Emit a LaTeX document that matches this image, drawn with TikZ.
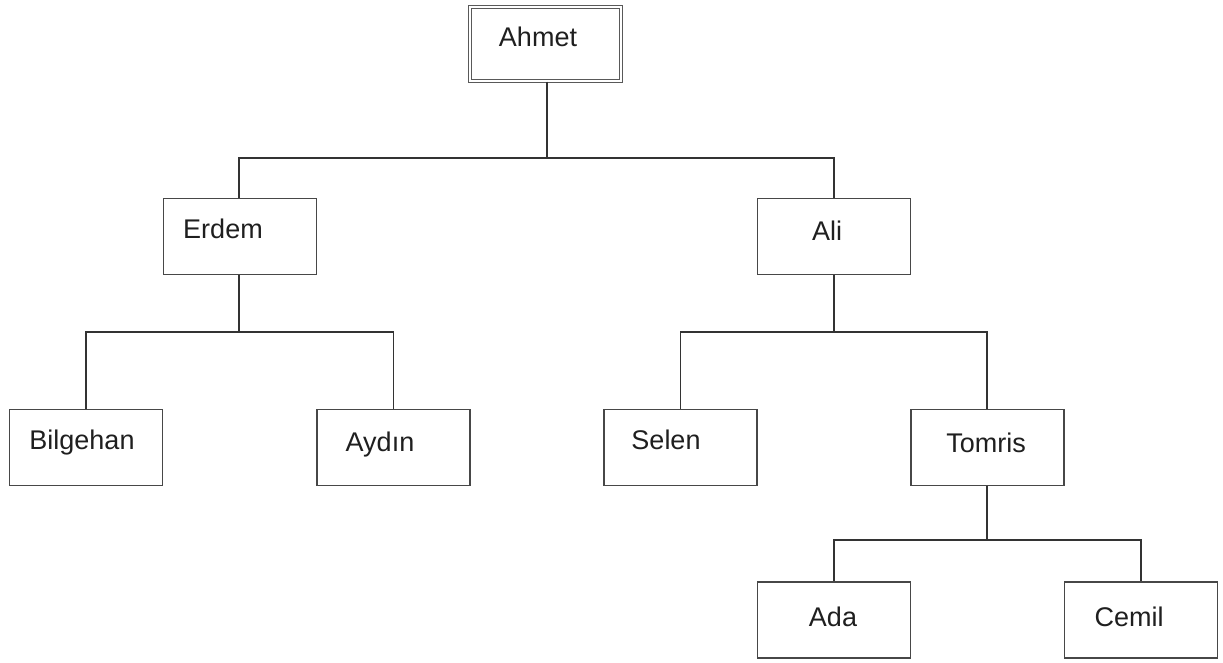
\documentclass[tikz,border=0pt]{standalone}
\usepackage{fontspec}
\setmainfont{Liberation Sans}
\begin{document}
\begin{tikzpicture}[x=1pt,y=-1pt,
  person/.style={draw=black!72, line width=1.7pt, minimum width=153pt, minimum height=76pt, inner sep=0pt},
  root/.style={draw=black!65, line width=1.4pt, double=white, double distance=1.6pt, minimum width=151pt, minimum height=74pt, inner sep=0pt},
  tag/.style={font=\fontsize{27}{30}\selectfont, text=black!88, inner sep=0pt},
  link/.style={draw=black!80, line width=1.6pt}]
\useasboundingbox[fill=white] (0,0) rectangle (1223,662);

\node[root]   (Ahmet)    at (545.5,44)  {};
\node[person] (Erdem)    at (240,236.5) {};
\node[person] (Ali)      at (834,236.5) {};
\node[person] (Bilgehan) at (86,447.5)  {};
\node[person] (Aydin)    at (393.5,447.5) {};
\node[person] (Selen)    at (680.5,447.5) {};
\node[person] (Tomris)   at (987.5,447.5) {};
\node[person] (Ada)      at (834,620)   {};
\node[person] (Cemil)    at (1141,620)  {};

\node[tag] (tAhmet)    at (538,37)   {Ahmet};
\node[tag] (tErdem)    at (223,229)  {Erdem};
\node[tag] (tAli)      at (827,231)  {Ali};
\node[tag] (tBilgehan) at (82,443)   {Bilgehan};
\node[tag] (tAydin)    at (380,445)  {Aydın};
\node[tag] (tSelen)    at (666,440)  {Selen};
\node[tag] (tTomris)   at (986,443)  {Tomris};
\node[tag] (tAda)      at (833,617)  {Ada};
\node[tag] (tCemil)    at (1129,617) {Cemil};

\coordinate (j0) at (547,158);
\coordinate (j1) at (239,332);
\coordinate (j2) at (834,332);
\coordinate (j3) at (987,540);

\draw[link] (Ahmet.south -| j0) -- (j0);
\draw[link] (Erdem.north -| j1) |- (j0) -| (Ali.north);
\draw[link] (Erdem.south -| j1) -- (j1);
\draw[link] (Bilgehan.north) |- (j1) -| (Aydin.north);
\draw[link] (Ali.south) -- (j2);
\draw[link] (Selen.north) |- (j2) -| (Tomris.north -| j3);
\draw[link] (Tomris.south -| j3) -- (j3);
\draw[link] (Ada.north) |- (j3) -| (Cemil.north);
\end{tikzpicture}
\end{document}
